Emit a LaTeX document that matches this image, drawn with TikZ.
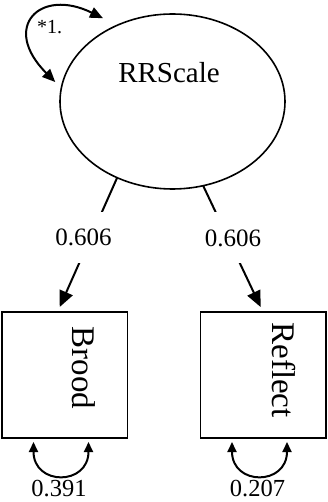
\documentclass[tikz,border=0pt]{standalone}
\usepackage{fontspec}
\setmainfont{Liberation Serif}
\usetikzlibrary{shapes.geometric,arrows.meta}

\begin{document}
\begin{tikzpicture}[x=1pt,y=-1pt]
  \tikzset{LatentStyle/.style = {
    shape          = ellipse,
    draw           = black,
    fill           = white,
    line width     = 1.6pt,
    minimum width  = 225pt,
    minimum height = 175pt,
    inner sep      = 0pt,
    outer sep      = 0pt
    }
  }
  \tikzset{ObservedStyle/.style = {
    shape          = rectangle,
    draw           = black,
    line width     = 1.5pt,
    minimum width  = 125.5pt,
    minimum height = 126pt,
    inner sep      = 0pt,
    outer sep      = 0pt
    }
  }
  \tikzset{NameStyle/.style = {
    text           = black,
    inner sep      = 0pt,
    font           = \fontsize{33}{36}\selectfont
    }
  }
  \tikzset{PathStyle/.style = {
    draw           = black,
    line width     = 2pt,
    -{Triangle[length=16pt,width=14pt]},
    shorten >      = 5.5pt
    }
  }
  \tikzset{VarianceStyle/.style = {
    draw           = black,
    line width     = 2pt,
    {Triangle[length=10pt,width=9pt]}-{Triangle[length=10pt,width=9pt]}
    }
  }
  \tikzset{LoopStyle/.style = {
    draw           = black,
    line width     = 2pt,
    {Triangle[length=13pt,width=11pt]}-{Triangle[length=13pt,width=11pt]}
    }
  }
  \tikzset{EdgeLabelStyle/.style = {
    fill           = white,
    text           = black,
    inner sep      = 0pt,
    minimum height = 51pt,
    font           = \fontsize{25}{27}\selectfont
    }
  }
  \tikzset{VarLabelStyle/.style = {
    text           = black,
    inner sep      = 4pt,
    font           = \fontsize{24.5}{26}\selectfont
    }
  }

  \path[use as bounding box, fill=white] (0,0) rectangle (327,502);

  % latent factor and indicators
  \node[LatentStyle](RR) at (172.5, 101.5) {};
  \node[NameStyle, font=\fontsize{29}{31}\selectfont](RRName) at (169, 72.5) {RRScale};
  \node[ObservedStyle](Brood) at (64.5, 375) {};
  \node[ObservedStyle](Reflect) at (263, 375) {};
  \node[NameStyle, rotate=-90](BroodName) at (84, 368) {Brood};
  \node[NameStyle, rotate=-90](ReflectName) at (283.5, 370) {Reflect};

  % loadings
  \draw[PathStyle](RR.234) -- node[EdgeLabelStyle, pos=0.448, xshift=-7pt]{0.606} ([xshift=-7pt]Brood.north);
  \draw[PathStyle](RR.290) -- node[EdgeLabelStyle, pos=0.414, xshift=5pt]{0.606} (Reflect.north);

  % variances
  \draw[LoopStyle]([shift={(-7pt,2pt)}]RR.171) .. controls +(-55,-55) and +(-63,-31) .. ([shift={(-8pt,10pt)}]RR.130);
  \node[VarLabelStyle, inner sep=0pt, font=\fontsize{20}{22}\selectfont](RRVar) at (49.5, 27.5) {*1.};
  \draw[VarianceStyle]([shift={(-31pt,-4pt)}]Brood.south) .. controls +(0,44) and +(0,44) .. node[VarLabelStyle, below, xshift=-2pt]{0.391} ([shift={(24pt,-4pt)}]Brood.south);
  \draw[VarianceStyle]([shift={(-31pt,-4pt)}]Reflect.south) .. controls +(0,44) and +(0,44) .. node[VarLabelStyle, below, xshift=-2pt]{0.207} ([shift={(24pt,-4pt)}]Reflect.south);

\end{tikzpicture}
\end{document}
